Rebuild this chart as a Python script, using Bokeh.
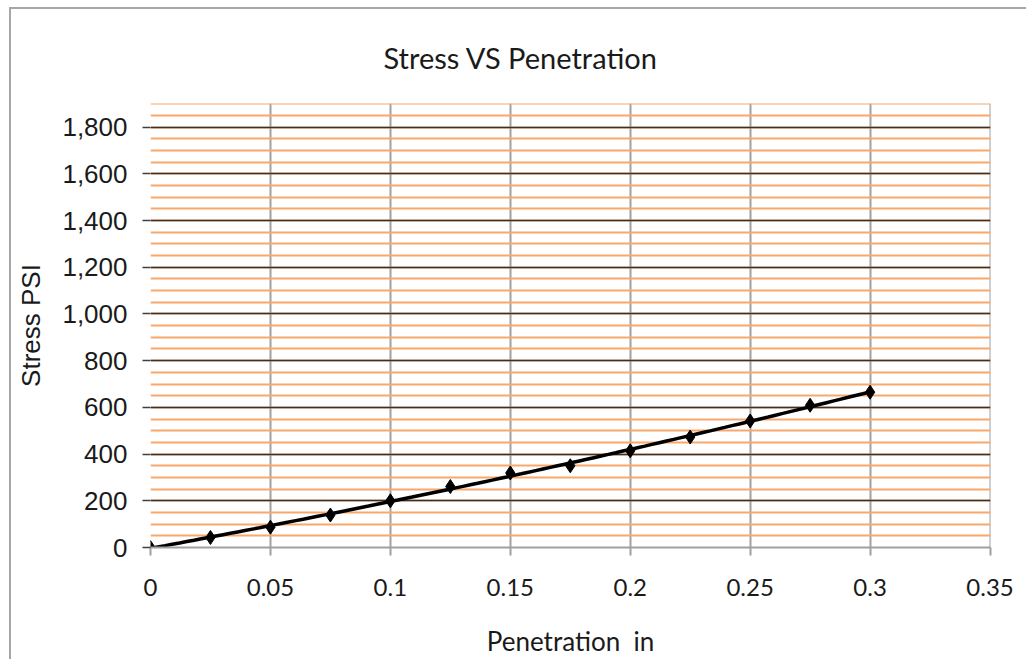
import numpy as np
from bokeh.plotting import figure
from bokeh.models import Range1d, SingleIntervalTicker, NumeralTickFormatter, Title
from bokeh.embed import file_html
from bokeh.resources import INLINE

penetration = [0, 0.025, 0.05, 0.075, 0.1, 0.125, 0.15, 0.175, 0.2, 0.225, 0.25, 0.275, 0.3]
stress = [0, 43, 87, 139, 200, 261, 319, 350, 414, 473, 542, 609, 665]
x_ticks = [0, 0.05, 0.1, 0.15, 0.2, 0.25, 0.3, 0.35]

p = figure(width=1017, height=652, output_backend="svg", toolbar_location=None,
           x_range=Range1d(0, 0.3502), y_range=Range1d(0, 1901),
           min_border_left=139, min_border_right=38, min_border_top=93, min_border_bottom=114)
p.styles = {"margin-left": "9px", "margin-top": "7px",
            "border-left": "2px solid #a6a6a6", "border-top": "2px solid #a6a6a6"}
p.outline_line_color = None

p.title = Title(text="Stress VS Penetration", text_font="Lato", text_font_size="29px",
                text_font_style="normal", text_color="#1a1a1a", align="left", offset=233,
                standoff=57)

# axes
p.xaxis.ticker = x_ticks
p.xaxis.axis_line_color = "#a0a0a0"
p.xaxis.axis_line_width = 2
p.xaxis.major_tick_line_color = "#a0a0a0"
p.xaxis.major_tick_line_width = 2
p.xaxis.major_tick_out = 8
p.xaxis.major_tick_in = 0
p.xaxis.minor_tick_line_color = None
p.xaxis.major_label_text_font = "Lato"
p.xaxis.major_label_text_font_size = "24px"
p.xaxis.major_label_text_color = "#1a1a1a"
p.xaxis.major_label_standoff = 23
p.xaxis.axis_label = "Penetration\u00a0 in"
p.xaxis.axis_label_text_font = "Lato"
p.xaxis.axis_label_text_font_size = "26px"
p.xaxis.axis_label_text_font_style = "normal"
p.xaxis.axis_label_text_color = "#1a1a1a"
p.xaxis.axis_label_standoff = 26

p.yaxis.ticker = SingleIntervalTicker(interval=200, num_minor_ticks=4)
p.yaxis.formatter = NumeralTickFormatter(format="0,0")
p.yaxis.axis_line_color = None
p.yaxis.major_tick_line_color = "#404040"
p.yaxis.major_tick_line_width = 1.5
p.yaxis.major_tick_out = 8
p.yaxis.major_tick_in = 0
p.yaxis.minor_tick_line_color = None
p.yaxis.major_label_text_font = "Liberation Sans"
p.yaxis.major_label_text_font_size = "26px"
p.yaxis.major_label_text_color = "#1a1a1a"
p.yaxis.major_label_standoff = 15
p.yaxis.axis_label = "Stress PSI"
p.yaxis.axis_label_text_font = "Liberation Sans"
p.yaxis.axis_label_text_font_size = "26px"
p.yaxis.axis_label_text_font_style = "normal"
p.yaxis.axis_label_text_color = "#1a1a1a"
p.yaxis.axis_label_standoff = 13

# grids
p.xgrid.ticker = x_ticks
p.xgrid.grid_line_color = "#a0a0a0"
p.xgrid.grid_line_width = 2
p.ygrid.grid_line_color = "#333333"
p.ygrid.grid_line_width = 1.5
p.ygrid.minor_grid_line_color = "#f9a86c"
p.ygrid.minor_grid_line_width = 2

# trendline (quadratic least-squares fit of the data) and markers
coef = np.polyfit(penetration, stress, 2)
xs = np.linspace(min(penetration), max(penetration), 100)
p.line(xs, np.polyval(coef, xs), line_color="black", line_width=3.5)
p.scatter(penetration, stress, marker="diamond", size=14, fill_color="black", line_color="black")

open("out.html", "w").write(file_html(p, INLINE))
